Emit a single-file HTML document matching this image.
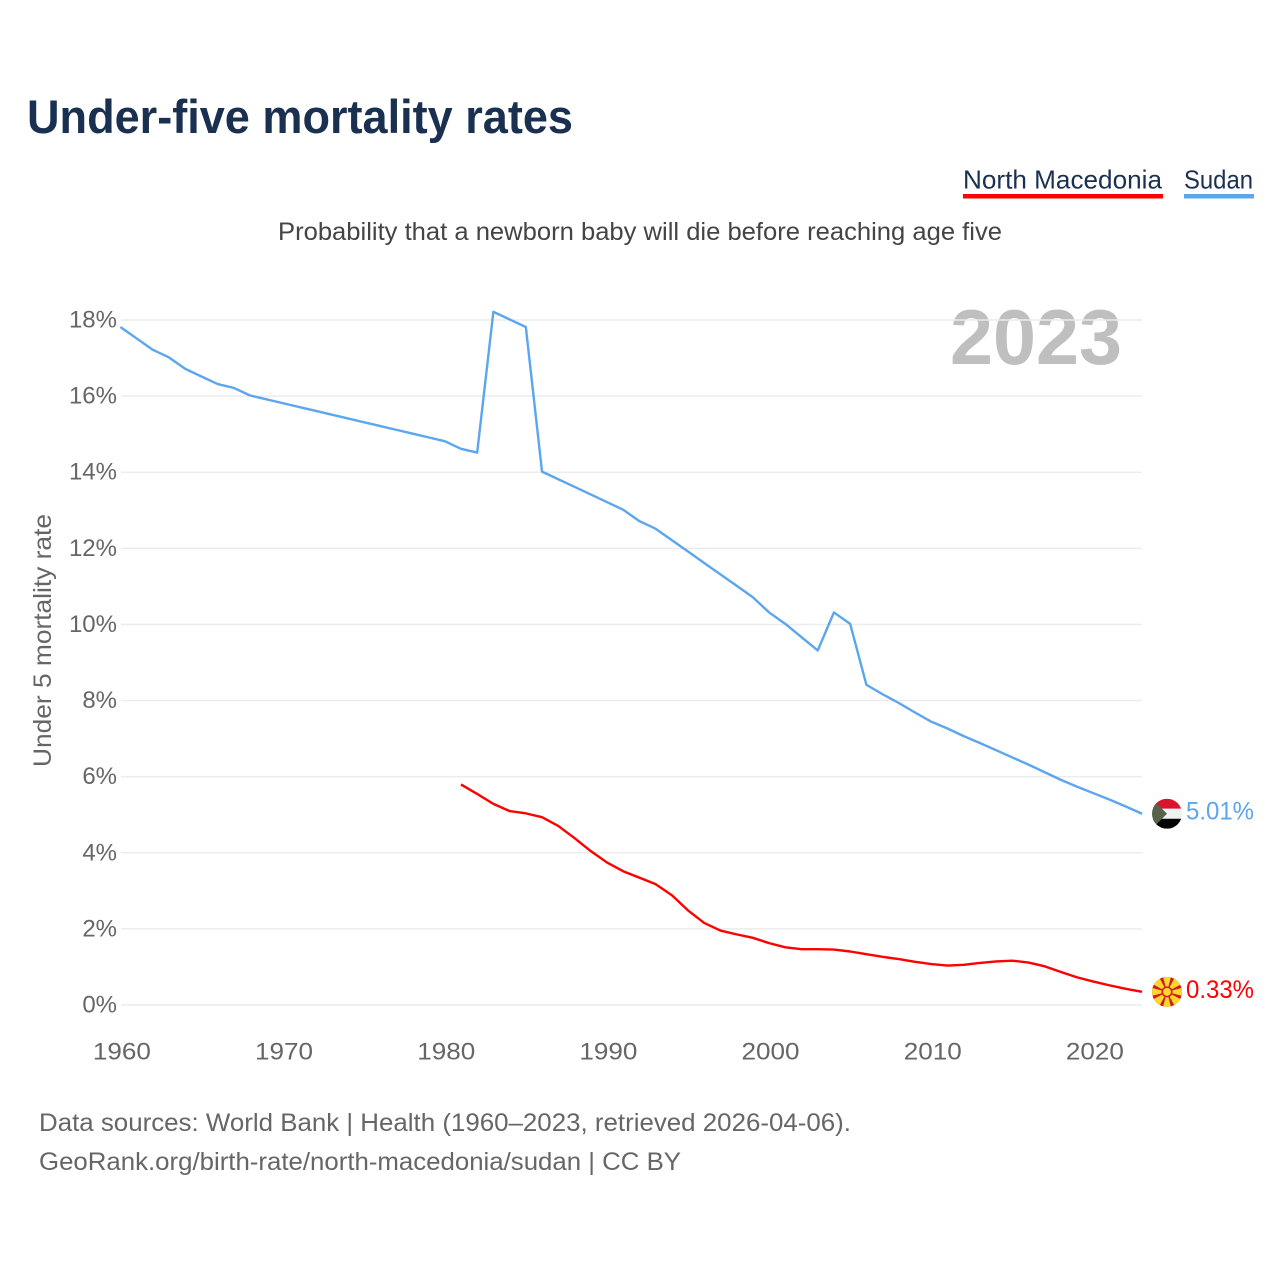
<!DOCTYPE html>
<html lang="en">
<head>
<meta charset="utf-8">
<title>Under-five mortality rates</title>
<style>
  html, body { margin: 0; padding: 0; background: #fff; }
  svg { display: block; }
  text { font-family: "Liberation Sans", sans-serif; }
</style>
</head>
<body>
<svg id="chart" xmlns="http://www.w3.org/2000/svg" width="1280" height="1280" viewBox="0 0 1280 1280">
  <defs>
    <clipPath id="flag-clip"><circle cx="0" cy="0" r="15"></circle></clipPath>
  </defs>
  <rect x="0" y="0" width="1280" height="1280" fill="#ffffff"></rect>
  <text x="27" y="133" font-size="47" font-weight="700" fill="#1a3050" textLength="546" lengthAdjust="spacingAndGlyphs">Under-five mortality rates</text>

  <g>
    <g>
      <text x="963" y="188.5" font-size="26" fill="#1a3050" textLength="199" lengthAdjust="spacingAndGlyphs">North Macedonia</text>
      <rect x="963" y="194" width="200" height="4.5" fill="#ff0000"></rect>
    </g>
    <g>
      <text x="1184" y="188.5" font-size="26" fill="#1a3050" textLength="69" lengthAdjust="spacingAndGlyphs">Sudan</text>
      <rect x="1184" y="194" width="70" height="4.5" fill="#5ca6ee"></rect>
    </g>
  </g>

  <text x="278" y="240" font-size="25" fill="#444444" textLength="724" lengthAdjust="spacingAndGlyphs">Probability that a newborn baby will die before reaching age five</text>
  <text x="950" y="364" font-size="78" font-weight="700" fill="#bfbfbf" textLength="172" lengthAdjust="spacingAndGlyphs">2023</text>
  <text transform="translate(51 767) rotate(-90)" x="0" y="0" font-size="25" fill="#666666" textLength="253" lengthAdjust="spacingAndGlyphs">Under 5 mortality rate</text>

  <g id="grid"></g>
  <g id="y-ticks"></g>
  <g id="x-ticks"></g>
  <g id="series"></g>

  <g id="flag-sudan" clip-path="url(#flag-clip)">
    <rect x="-15" y="-15" width="30" height="10" fill="#d9142f"></rect>
    <rect x="-15" y="-5" width="30" height="10" fill="#f1f1f1"></rect>
    <rect x="-15" y="5" width="30" height="10" fill="#050505"></rect>
    <polygon points="-15,-15 0,0 -15,15" fill="#566349"></polygon>
  </g>
  <g id="flag-mk" clip-path="url(#flag-clip)">
    <rect x="-15" y="-15" width="30" height="30" fill="#d8141f"></rect>
    <polygon points="-4,-15 4,-15 0,0" fill="#f8d92b"></polygon>
    <polygon points="-4,15 4,15 0,0" fill="#f8d92b"></polygon>
    <polygon points="-15,-4 -15,4 0,0" fill="#f8d92b"></polygon>
    <polygon points="15,-4 15,4 0,0" fill="#f8d92b"></polygon>
    <polygon points="-15,-15 -7,-15 -15,-7" fill="#f8d92b"></polygon>
    <polygon points="-14,-14 -7,-13 0,0 -13,-7" fill="#f8d92b"></polygon>
    <polygon points="14,-14 7,-13 0,0 13,-7" fill="#f8d92b"></polygon>
    <polygon points="14,14 7,13 0,0 13,7" fill="#f8d92b"></polygon>
    <polygon points="-14,14 -7,13 0,0 -13,7" fill="#f8d92b"></polygon>
    <circle cx="0" cy="0" r="5.5" fill="#d8141f"></circle>
    <circle cx="0" cy="0" r="4" fill="#f8d92b"></circle>
  </g>
  <g id="end-labels"></g>

  <text x="39" y="1131" font-size="25" fill="#666666" textLength="812" lengthAdjust="spacingAndGlyphs">Data sources: World Bank | Health (1960–2023, retrieved 2026-04-06).</text>
  <text x="39" y="1170" font-size="25" fill="#666666" textLength="642" lengthAdjust="spacingAndGlyphs">GeoRank.org/birth-rate/north-macedonia/sudan | CC BY</text>
</svg>
<script>
const yTickValues = [0, 2, 4, 6, 8, 10, 12, 14, 16, 18];
const xTickYears = [1960, 1970, 1980, 1990, 2000, 2010, 2020];
const sudanStartYear = 1960;
const sudanValues = [17.8, 17.5, 17.2, 17.0, 16.7, 16.5, 16.3, 16.2, 16.0, 15.9,
  15.8, 15.7, 15.6, 15.5, 15.4, 15.3, 15.2, 15.1, 15.0, 14.9,
  14.8, 14.6, 14.5, 18.2, 18.0, 17.8, 14.0, 13.8, 13.6, 13.4,
  13.2, 13.0, 12.7, 12.5, 12.2, 11.9, 11.6, 11.3, 11.0, 10.7,
  10.3, 10.0, 9.65, 9.3, 10.3, 10.0, 8.4, 8.15, 7.92, 7.67,
  7.43, 7.25, 7.05, 6.87, 6.68, 6.49, 6.3, 6.1, 5.9, 5.72,
  5.55, 5.38, 5.2, 5.01];
const macedoniaStartYear = 1981;
const macedoniaValues = [5.78, 5.53, 5.27, 5.08, 5.02, 4.92, 4.69, 4.37, 4.03,
  3.73, 3.5, 3.33, 3.16, 2.87, 2.47, 2.14, 1.94, 1.84, 1.75,
  1.61, 1.5, 1.45, 1.45, 1.44, 1.39, 1.32, 1.25, 1.19, 1.12,
  1.06, 1.02, 1.04, 1.09, 1.13, 1.15, 1.1, 1.0, 0.85, 0.71,
  0.6, 0.5, 0.41, 0.33];

const SVG_NS = 'http://www.w3.org/2000/svg';
const xScale = year => 120.4 + (year - 1960) * (1093.4 - 120.4) / 60;
const yScale = value => 1004.4 - value * (1004.4 - 319.4) / 18;
const make = (tag, parent, attrs, content) => {
  const el = document.createElementNS(SVG_NS, tag);
  for (const key in attrs) el.setAttribute(key, attrs[key]);
  if (content !== undefined) el.textContent = content;
  parent.appendChild(el);
  return el;
};

const grid = document.getElementById('grid');
const yTicks = document.getElementById('y-ticks');
yTickValues.forEach(value => {
  const y = yScale(value) + 0.6;
  const line = make('line', grid, { x1: 121, x2: 1142, y1: y, y2: y, stroke: '#ececec', 'stroke-width': 1.5 });
  
  
  const label = make('text', yTicks, { x: 117, y: y + 7.5, 'font-size': 24, fill: '#666666', 'text-anchor': 'end' }, value + '%');
  
  
});

const xTicks = document.getElementById('x-ticks');
xTickYears.forEach(year => {
  const label = make('text', xTicks, { x: xScale(year) - 27.5, y: 1059.5, 'font-size': 24, fill: '#666666', textLength: 58, lengthAdjust: 'spacingAndGlyphs' }, String(year));
  
  
});

const toPoints = (startYear, values) =>
  values.map((value, i) => xScale(startYear + i).toFixed(2) + ',' + yScale(value).toFixed(2)).join(' ');

const series = document.getElementById('series');
const sudanLine = make('polyline', series, { points: toPoints(sudanStartYear, sudanValues), fill: 'none', stroke: '#5ca6ee', 'stroke-width': 2.4, 'stroke-linejoin': 'round' });


const macedoniaLine = make('polyline', series, { points: toPoints(macedoniaStartYear, macedoniaValues), fill: 'none', stroke: '#ff0000', 'stroke-width': 2.4, 'stroke-linejoin': 'round' });



const sudanLast = sudanValues[sudanValues.length - 1];
const macedoniaLast = macedoniaValues[macedoniaValues.length - 1];
document.getElementById('flag-sudan').setAttribute('transform', 'translate(1167 ' + yScale(sudanLast).toFixed(2) + ')');
document.getElementById('flag-mk').setAttribute('transform', 'translate(1167 ' + yScale(macedoniaLast).toFixed(2) + ')');

const endLabels = document.getElementById('end-labels');
const sudanLabel = make('text', endLabels, { x: 1186, y: yScale(sudanLast) + 6, 'font-size': 25, fill: '#5ca6ee', textLength: 68, lengthAdjust: 'spacingAndGlyphs' }, sudanLast.toFixed(2) + '%');


const macedoniaLabel = make('text', endLabels, { x: 1186, y: yScale(macedoniaLast) + 6, 'font-size': 25, fill: '#ff0000', textLength: 68, lengthAdjust: 'spacingAndGlyphs' }, macedoniaLast.toFixed(2) + '%');


</script>
</body>
</html>
